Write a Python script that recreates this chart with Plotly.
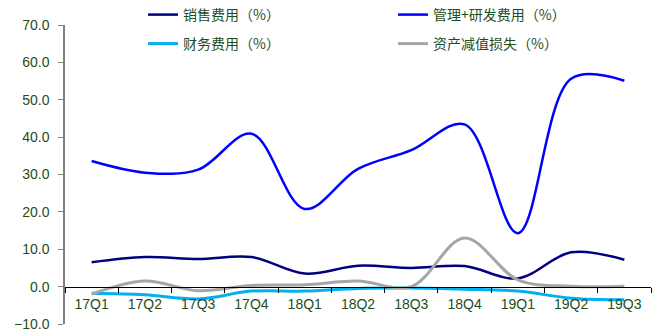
import plotly.graph_objects as go

quarters = ["17Q1", "17Q2", "17Q3", "17Q4", "18Q1", "18Q2", "18Q3", "18Q4", "19Q1", "19Q2", "19Q3"]
sales = [6.5, 7.9, 7.4, 7.9, 3.5, 5.6, 5.0, 5.5, 2.2, 9.2, 7.2]
admin_rd = [33.6, 30.5, 31.3, 40.9, 20.8, 31.5, 36.5, 43.4, 14.3, 55.6, 55.1]
finance = [-1.8, -2.2, -3.3, -1.2, -1.2, -0.5, -0.4, -0.7, -1.2, -3.1, -3.5]
impairment = [-2.0, 1.5, -1.1, 0.3, 0.5, 1.5, 0.0, 13.0, 1.8, 0.1, 0.1]

names = ["销售费用（%）", "管理+研发费用（%）", "财务费用（%）", "资产减值损失（%）"]
colors = ["#000080", "#0000FF", "#00B0F0", "#A6A6A6"]
widths = [2.5, 2.5, 3, 3]
legends = ["legend", "legend", "legend2", "legend2"]

green = "#1E4D1E"
fig = go.Figure()
for ser, nm, c, w, lg in zip([sales, admin_rd, finance, impairment], names, colors, widths, legends):
    fig.add_trace(go.Scatter(x=quarters, y=ser, name=nm, mode="lines",
                             line=dict(color=c, width=w, shape="spline", smoothing=1.0),
                             legend=lg))

legend_common = dict(orientation="h", xanchor="left", yanchor="middle", x=(143 - 65) / 586,
                     entrywidth=205, entrywidthmode="pixels", bgcolor="rgba(0,0,0,0)",
                     font=dict(family="Noto Sans CJK SC", size=14, color=green),
                     itemwidth=30, tracegroupgap=0)

fig.update_layout(
    width=658, height=333,
    margin=dict(l=65, r=7, t=25, b=9, autoexpand=False),
    paper_bgcolor="white", plot_bgcolor="white",
    showlegend=True,
    legend=dict(legend_common, y=1 + (25 - 15) / 299),
    legend2=dict(legend_common, y=1 - (44 - 25) / 299),
    xaxis=dict(type="category", range=[-0.5, 10.5], anchor="free", position=10 / 80,
               showline=True, linecolor="black", linewidth=1,
               ticks="outside", ticklen=5, tickcolor="black", tickson="boundaries",
               ticklabelstandoff=5,
               showgrid=False, zeroline=False,
               tickfont=dict(family="Arial", size=14, color=green)),
    yaxis=dict(range=[-10, 70], dtick=10, tickformat=".1f",
               showline=True, linecolor="#808080", linewidth=1.5,
               ticks="outside", ticklen=5, tickcolor="#808080",
               ticklabelstandoff=6,
               showgrid=False, zeroline=False,
               tickfont=dict(family="Arial", size=14, color=green)),
)

fig.write_html("out.html")
